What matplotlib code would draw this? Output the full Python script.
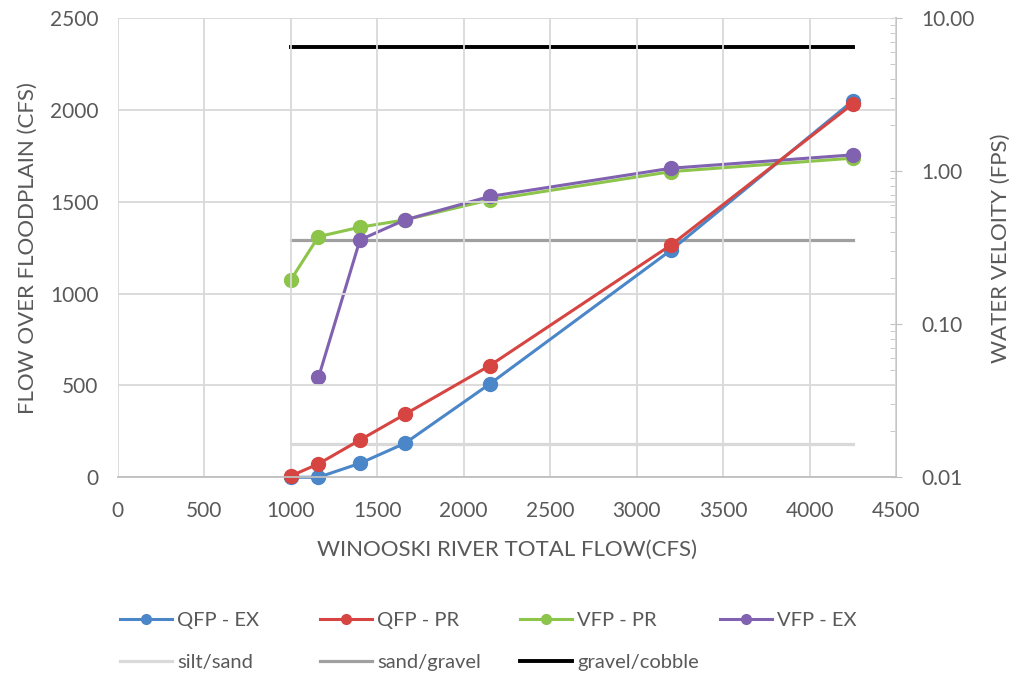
import matplotlib
matplotlib.use("Agg")
import matplotlib.pyplot as plt
from matplotlib.ticker import FixedLocator, FuncFormatter, LogLocator, NullFormatter

plt.rcParams['font.family'] = ['Lato', 'DejaVu Sans']

# Data
flow = [1000, 1160, 1400, 1660, 2150, 3200, 4250]
qfp_ex = [0, 0, 76, 185, 508, 1238, 2050]
qfp_pr = [7, 73, 203, 343, 608, 1266, 2034]
vfp_pr = [0.195, 0.374, 0.431, 0.481, 0.650, 0.995, 1.218]
flow_vex = [1160, 1400, 1660, 2150, 3200, 4250]
vfp_ex = [0.0449, 0.356, 0.481, 0.684, 1.047, 1.28]

thr_x = [1000, 4250]
silt_sand = 0.0164
sand_gravel = 0.356
gravel_cobble = 6.53

x_ticks = [0, 500, 1000, 1500, 2000, 2500, 3000, 3500, 4000, 4500]
y_ticks = [0, 500, 1000, 1500, 2000, 2500]
v_ticks = [0.01, 0.1, 1, 10]

TXT = '#595959'
GRID = '#d9d9d9'
TICKFS = 15
LABFS = 16

fig = plt.figure(figsize=(10.16, 6.76), dpi=100)
ax = fig.add_axes([0.116, 0.294, 0.766, 0.679])
ax2 = ax.twinx()

ax.set_xlim(0, 4500)
ax.set_ylim(0, 2500)
ax.set_xticks(x_ticks)
ax.set_yticks(y_ticks)
ax.grid(True, color=GRID, linewidth=1.3)
ax.set_axisbelow(True)
for s in ['top', 'right', 'left']:
    ax.spines[s].set_visible(False)
ax.spines['bottom'].set_color('#bfbfbf')
ax.spines['bottom'].set_linewidth(1.3)
ax.tick_params(axis='both', length=0, labelsize=TICKFS, labelcolor=TXT)
ax.tick_params(axis='x', pad=17)
ax.tick_params(axis='y', pad=14)

ms = 10
lw = 2.2
c_blue = '#4A86C8'
c_red = '#D64541'
c_green = '#8DC44A'
c_purple = '#8062B0'

h_sand = ax2.plot(thr_x, [silt_sand] * 2, color='#d9d9d9', lw=2.3, label='silt/sand')[0]
h_grav = ax2.plot(thr_x, [sand_gravel] * 2, color='#a0a0a0', lw=2.3, label='sand/gravel')[0]
h_cob = ax2.plot(thr_x, [gravel_cobble] * 2, color='black', lw=2.8, label='gravel/cobble')[0]
h_vpr = ax2.plot(flow, vfp_pr, color=c_green, lw=lw, marker='o', ms=ms, label='VFP - PR')[0]
h_vex = ax2.plot(flow_vex, vfp_ex, color=c_purple, lw=lw, marker='o', ms=ms, label='VFP - EX')[0]

ax.set_zorder(ax2.get_zorder() + 1)
ax.patch.set_visible(False)
h_qex = ax.plot(flow, qfp_ex, color=c_blue, lw=lw, marker='o', ms=ms, label='QFP - EX', clip_on=False)[0]
h_qpr = ax.plot(flow, qfp_pr, color=c_red, lw=lw, marker='o', ms=ms, label='QFP - PR', clip_on=False)[0]

ax2.set_yscale('log')
ax2.set_ylim(0.01, 10)
ax2.yaxis.set_major_locator(FixedLocator(v_ticks))
ax2.yaxis.set_major_formatter(FuncFormatter(lambda v, p: f'{v:.2f}'))
ax2.yaxis.set_minor_locator(LogLocator(base=10, subs=range(2, 10)))
ax2.yaxis.set_minor_formatter(NullFormatter())
for s in ['top', 'left', 'bottom']:
    ax2.spines[s].set_visible(False)
ax2.spines['right'].set_color('#bfbfbf')
ax2.spines['right'].set_linewidth(1.3)
ax2.tick_params(axis='y', which='major', direction='inout', length=8, color='#bfbfbf',
                labelsize=TICKFS, labelcolor=TXT, pad=14)
ax2.tick_params(axis='y', which='minor', direction='in', length=4, color='#bfbfbf')

ax.set_xlabel('WINOOSKI RIVER TOTAL FLOW(CFS)', fontsize=LABFS, color=TXT, labelpad=14)
ax.set_ylabel('FLOW OVER FLOODPLAIN (CFS)', fontsize=LABFS, color=TXT, labelpad=9)
ax2.set_ylabel('WATER VELOITY (FPS)', fontsize=LABFS, color=TXT, labelpad=12)

cols = [(h_qex, h_sand), (h_qpr, h_grav), (h_vpr, h_cob), (h_vex,)]
col_x = [120, 320, 520, 720]
for hs, cx in zip(cols, col_x):
    leg = fig.legend(list(hs), [h.get_label() for h in hs], loc='upper left',
                     bbox_to_anchor=(cx / 1016, 1 - 612 / 676), frameon=False,
                     fontsize=14.5, labelcolor=TXT, markerscale=0.7,
                     handlelength=2.6, handletextpad=0.25, labelspacing=1.25,
                     borderpad=0, borderaxespad=0)

fig.savefig('out.png', dpi=100)
